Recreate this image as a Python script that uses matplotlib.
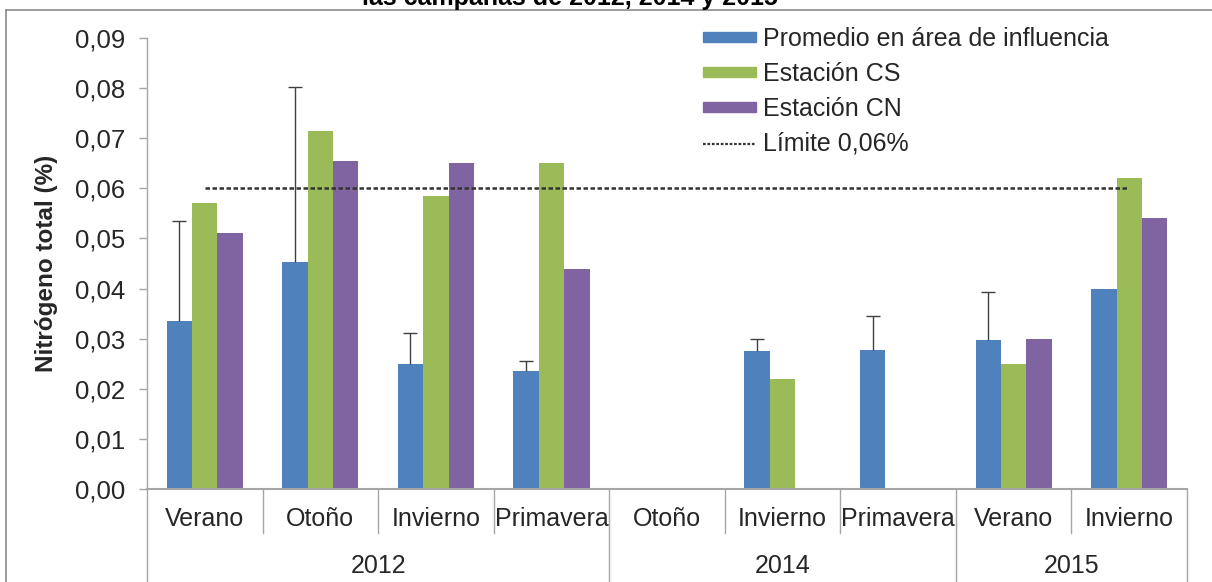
import numpy as np
import matplotlib
matplotlib.use("Agg")
import matplotlib.pyplot as plt
from matplotlib.ticker import FuncFormatter
from matplotlib.lines import Line2D
from matplotlib.patches import Patch
import matplotlib.transforms as mtransforms

plt.rcParams["font.family"] = ["Liberation Sans", "DejaVu Sans"]

# ---------------------------
# Data
# ---------------------------

seasons = ["Verano", "Otoño", "Invierno", "Primavera",
           "Otoño", "Invierno", "Primavera",
           "Verano", "Invierno"]
years = ["2012", "2014", "2015"]
year_sizes = [4, 3, 2]

promedio = [0.0335, 0.0453, 0.0250, 0.0235, np.nan, 0.0275, 0.0277, 0.0297, 0.0400]
promedio_top = [0.0535, 0.0803, 0.0312, 0.0255, np.nan, 0.0300, 0.0345, 0.0393, np.nan]
estacion_cs = [0.0570, 0.0715, 0.0585, 0.0650, np.nan, 0.0220, np.nan, 0.0250, 0.0620]
estacion_cn = [0.0510, 0.0655, 0.0650, 0.0440, np.nan, np.nan, np.nan, 0.0300, 0.0540]
limite = 0.06

series_names = ["Promedio en área de influencia", "Estación CS", "Estación CN"]
limit_name = "Límite 0,06%"

# ---------------------------
# Style
# ---------------------------

c_blue = "#4F81BD"
c_green = "#9BBB59"
c_purple = "#8064A2"
c_axis = "#A6A6A6"
c_text = "#262626"
fs = 18

W, H = 1212, 582
fig = plt.figure(figsize=(W / 100, H / 100), dpi=100)
fig.patch.set_facecolor("white")

ax = fig.add_axes([147 / W, 1 - 489 / H, (1187 - 147) / W, (489 - 38) / H])

x = np.arange(len(seasons))
bw = 0.22

ax.bar(x - bw, promedio, bw, color=c_blue, zorder=2)
ax.bar(x, estacion_cs, bw, color=c_green, zorder=2)
ax.bar(x + bw, estacion_cn, bw, color=c_purple, zorder=2)

# upper error bars only ("plus" direction)
prom = np.array(promedio)
top = np.array(promedio_top)
has_err = ~np.isnan(top)
eb = ax.errorbar(x[has_err] - bw, prom[has_err],
                 yerr=[np.zeros(has_err.sum()), top[has_err] - prom[has_err]],
                 fmt="none", ecolor="#404040", elinewidth=1, capsize=5,
                 capthick=1, zorder=3)
eb[1][0].set_visible(False)

ax.plot([x[0], x[-1]], [limite, limite], color="#333333", lw=1.8,
        linestyle=(0, (1.8, 1.0)), zorder=4)

# ---------------------------
# Axes
# ---------------------------

ax.set_xlim(-0.5, len(seasons) - 0.5)
ax.set_ylim(0, 0.09)
ax.set_yticks(np.arange(0, 0.0901, 0.01))
ax.yaxis.set_major_formatter(FuncFormatter(lambda v, p: f"{v:.2f}".replace(".", ",")))
ax.tick_params(axis="y", length=6, width=1, color=c_axis, pad=10,
               labelsize=fs + 0.5, labelcolor=c_text)
ax.set_xticks([])

for s in ["top", "right"]:
    ax.spines[s].set_visible(False)
ax.spines["left"].set_color(c_axis)
ax.spines["bottom"].set_color(c_axis)
ax.spines["left"].set_linewidth(1)
ax.spines["bottom"].set_linewidth(1.5)

ax.set_ylabel("Nitrógeno total (%)", fontsize=fs - 0.5, fontweight="bold",
              color=c_text, labelpad=12)

# multi-level category axis
trans = mtransforms.blended_transform_factory(ax.transData, fig.transFigure)
y_axis0 = 1 - 489 / H
y_short = 1 - 533 / H

for i, s in enumerate(seasons):
    ax.text(x[i], 1 - 519 / H, s, transform=trans, ha="center", va="center",
            fontsize=fs, color=c_text)

bounds = np.cumsum([0] + year_sizes) - 0.5
for b in np.arange(0.5, len(seasons) - 1, 1.0):
    if b not in bounds:
        ax.plot([b, b], [y_axis0, y_short], transform=trans, color=c_axis,
                lw=1, clip_on=False)
for b in bounds:
    ax.plot([b, b], [y_axis0, 0], transform=trans, color=c_axis,
            lw=1, clip_on=False)
for k, yr in enumerate(years):
    ax.text((bounds[k] + bounds[k + 1]) / 2, 1 - 566 / H, yr, transform=trans,
            ha="center", va="center", fontsize=fs, color=c_text)

# ---------------------------
# Legend
# ---------------------------

handles = [Patch(color=c_blue), Patch(color=c_green), Patch(color=c_purple),
           Line2D([0], [0], color="#333333", lw=1.6, linestyle=(0, (1.2, 0.8)))]
leg = fig.legend(handles, series_names + [limit_name], loc="upper left",
                 bbox_to_anchor=(703 / W, 1 - 27 / H), frameon=False,
                 fontsize=fs, borderpad=0, borderaxespad=0,
                 handlelength=2.1, handleheight=0.28, handletextpad=0.3,
                 labelspacing=0.44)
for t in leg.get_texts():
    t.set_color(c_text)

# ---------------------------
# Title (cut off) and frame
# ---------------------------

fig.text(570 / W, 1 - 5 / H, "las campañas de 2012, 2014 y 2015",
         ha="center", va="baseline", fontsize=fs, fontweight="bold", color="black")

fig.add_artist(Line2D([6 / W, 1], [1 - 10 / H, 1 - 10 / H],
                      transform=fig.transFigure, color="#8C8C8C", lw=1.2))
fig.add_artist(Line2D([6 / W, 6 / W], [1 - 10 / H, 0],
                      transform=fig.transFigure, color="#8C8C8C", lw=1.2))

fig.savefig("out.png", dpi=100, facecolor="white")
